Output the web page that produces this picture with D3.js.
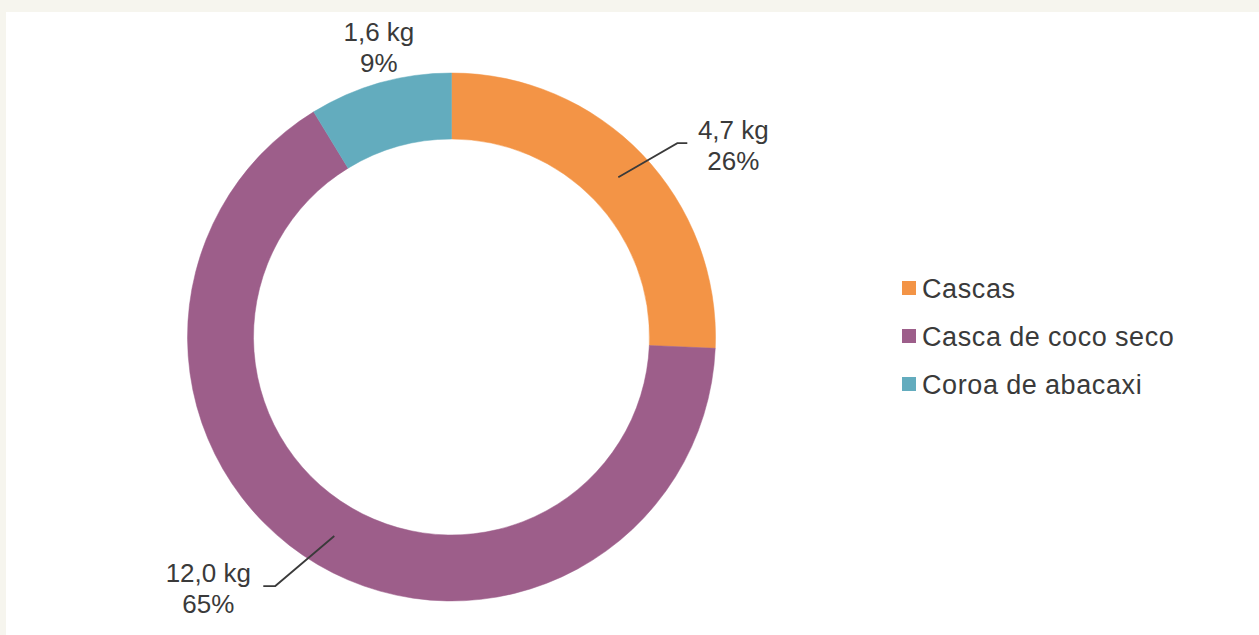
<!DOCTYPE html>
<html>
<head>
<meta charset="utf-8">
<script src="https://cdn.jsdelivr.net/npm/d3@7"></script>
<style>
  html, body { margin: 0; padding: 0; background: #f6f5ee; }
  svg { display: block; }
</style>
</head>
<body>
<svg id="chart" width="1259" height="635"></svg>
<script>
const categories = ["Cascas", "Casca de coco seco", "Coroa de abacaxi"];
const values = [4.7, 12.0, 1.6];
const valueLabels = ["4,7 kg", "12,0 kg", "1,6 kg"];
const percentLabels = ["26%", "65%", "9%"];
const colors = ["#f39446", "#9d5e8a", "#63acbe"];

const svg = d3.select("#chart");
const W = 1259, H = 635;

svg.append("rect").attr("x", 0).attr("y", 0).attr("width", W).attr("height", H).attr("fill", "#f6f5ee");
svg.append("rect").attr("x", 6).attr("y", 12).attr("width", W - 6).attr("height", H - 12).attr("fill", "#ffffff");

const cx = 451.5, cy = 337, rOuter = 264, rInner = 198;
const g = svg.append("g").attr("transform", `translate(${cx},${cy})`);

const data = categories.map((c, i) => ({ cat: c, value: values[i], vl: valueLabels[i], pl: percentLabels[i], color: colors[i] }));

const pie = d3.pie().value(d => d.value).sort(null).startAngle(0).endAngle(2 * Math.PI);
const arc = d3.arc().innerRadius(rInner).outerRadius(rOuter);
const arcs = pie(data);

g.selectAll("path.slice").data(arcs).enter().append("path")
  .attr("class", "slice")
  .attr("d", arc)
  .attr("fill", d => d.data.color)
  .attr("stroke", d => d.data.color)
  .attr("stroke-width", 0.5);

const font = "'Liberation Sans', Arial, sans-serif";
const textColor = "#3a3a3a";

// Label placement (relative offsets from the slice centroid)
const labelSpec = {
  "Cascas": { elbow: [59, -34], end: [69, -34], text: [115, -38], leader: true },
  "Casca de coco seco": { elbow: [-59, 50], end: [-71, 50], text: [-126, 46], leader: true },
  "Coroa de abacaxi": { text: null, leader: false }
};

arcs.forEach(a => {
  const c = arc.centroid(a);
  const spec = labelSpec[a.data.cat];
  let tx, ty;
  if (spec.leader) {
    g.append("polyline")
      .attr("points", [c, [c[0] + spec.elbow[0], c[1] + spec.elbow[1]], [c[0] + spec.end[0], c[1] + spec.end[1]]].map(p => p.join(",")).join(" "))
      .attr("fill", "none")
      .attr("stroke", "#3a3a3a")
      .attr("stroke-width", 1.8);
    tx = c[0] + spec.text[0];
    ty = c[1] + spec.text[1];
  } else {
    const mid = (a.startAngle + a.endAngle) / 2;
    tx = Math.sin(mid) * rOuter - 1;
    ty = -Math.cos(mid) * rOuter - 42;
  }
  const t = g.append("text")
    .attr("x", tx).attr("y", ty)
    .attr("text-anchor", "middle")
    .attr("font-family", font)
    .attr("font-size", 26)
    .attr("fill", textColor);
  t.append("tspan").attr("x", tx).attr("dy", 0).text(a.data.vl);
  t.append("tspan").attr("x", tx).attr("dy", 31).text(a.data.pl);
});

// Legend
const legend = svg.append("g").attr("transform", "translate(902,288)");
const rowH = 48;
const lg = legend.selectAll("g").data(data).enter().append("g")
  .attr("transform", (d, i) => `translate(0,${i * rowH})`);
lg.append("rect").attr("x", 0).attr("y", -7).attr("width", 14).attr("height", 14).attr("fill", d => d.color);
lg.append("text")
  .attr("x", 20).attr("y", 10)
  .attr("font-family", font)
  .attr("font-size", 27)
  .attr("letter-spacing", 0.6)
  .attr("word-spacing", -0.5)
  .attr("fill", textColor)
  .text(d => d.cat);
</script>
</body>
</html>
